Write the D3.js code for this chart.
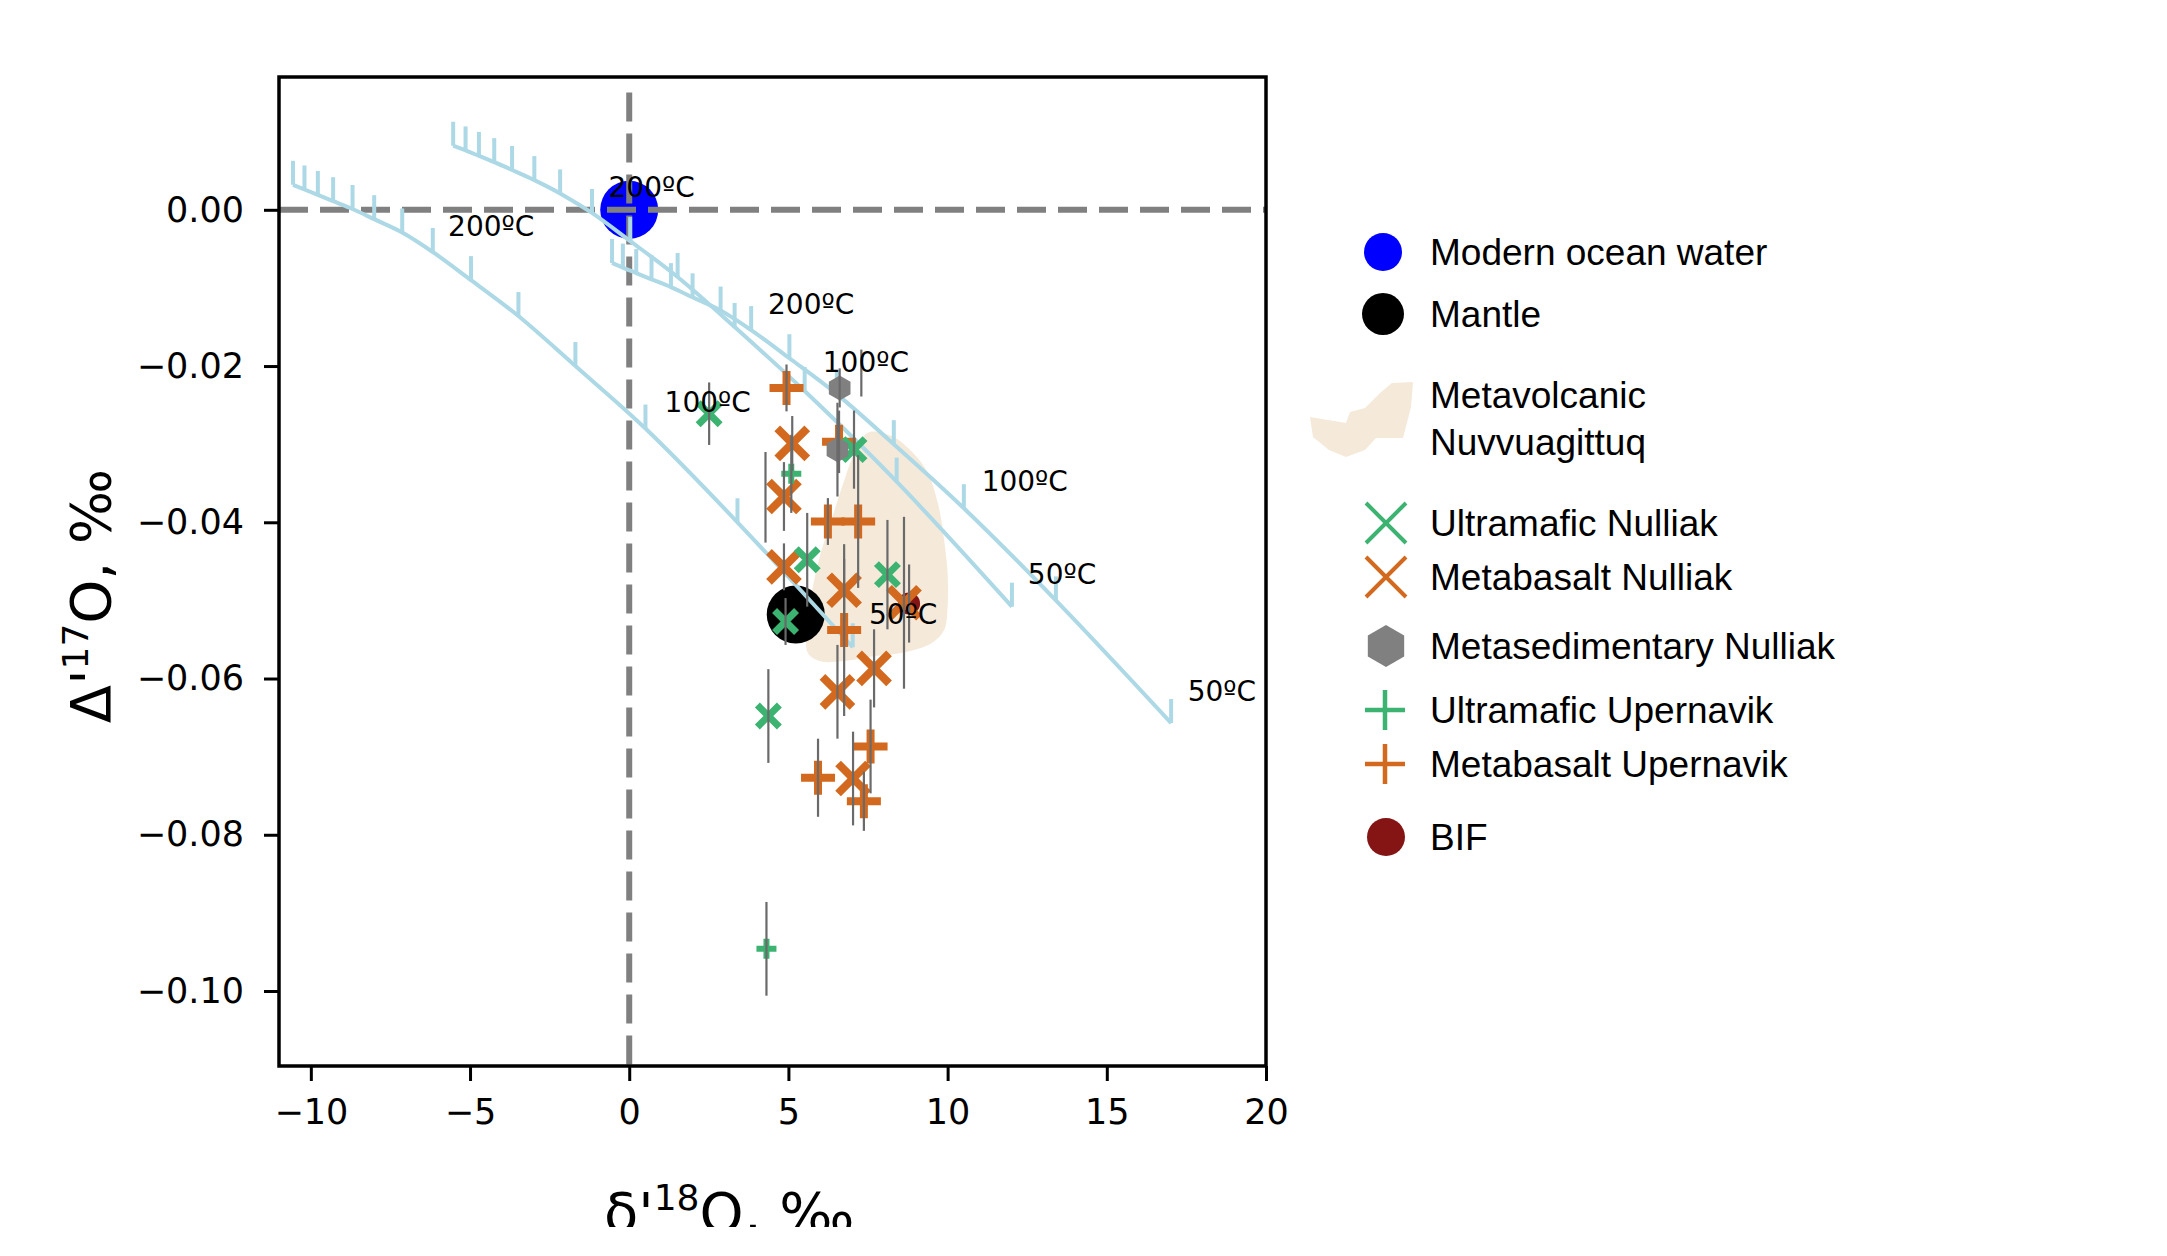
<!DOCTYPE html>
<html>
<head>
<meta charset="utf-8">
<script src="https://cdn.jsdelivr.net/npm/d3@7"></script>
<style>
    body { margin: 0; background: #fff; }
    text { fill: #000; }
</style>
</head>
<body>
<script>
//values: [d'18O, D'17O, error]
var xTicks = [-10, -5, 0, 5, 10, 15, 20];
var yTicks = [0, -0.02, -0.04, -0.06, -0.08, -0.10];

var oceanWater = [[0, 0]];
var mantle = [[5.23, -0.0518]];
var bif = [[8.79, -0.0504, 0.005]];

var ultramaficNulliak = [[2.51, -0.0261, 0.004], [7.06, -0.0307, 0.005], [5.59, -0.0448, 0.006],
    [8.11, -0.0467, 0.007], [4.91, -0.0527, 0.003], [4.37, -0.0648, 0.006]];
var metabasaltNulliak = [[5.12, -0.0299, 0.0035], [4.86, -0.0367, 0.0044], [4.86, -0.0457, 0.003],
    [6.75, -0.0487, 0.004], [8.63, -0.0503, 0.011], [7.69, -0.0587, 0.005], [6.54, -0.0617, 0.006],
    [7.03, -0.0728, 0.006]];
var metasedNulliak = [[6.61, -0.0228, 0.0025], [6.54, -0.0307, 0.006]];
var ultramaficUpernavik = [[5.09, -0.0338, 0.005], [4.31, -0.0946, 0.006]];
var metabasaltUpernavik = [[4.94, -0.0228, 0.003], [6.59, -0.0297, 0.004], [6.24, -0.0399, 0.003],
    [7.19, -0.0399, 0.0085], [6.75, -0.0538, 0.011], [7.58, -0.0687, 0.006], [5.93, -0.0727, 0.005],
    [7.37, -0.0757, 0.0038]];
//error bars with no visible marker: [x, yTop, yBottom]
var looseBars = [[4.28, -0.0310, -0.0426], [7.29, -0.0179, -0.0239]];

//metavolcanic Nuvvuagittuq field outline
var metavolcanic = [[7.58, -0.0284], [8.26, -0.0290], [8.93, -0.0312], [9.38, -0.0337], [9.72, -0.0380],
    [9.89, -0.0423], [10.00, -0.0465], [10.00, -0.0508], [9.89, -0.0538], [9.49, -0.0555], [8.71, -0.0566],
    [7.58, -0.0572], [6.69, -0.0578], [6.01, -0.0578], [5.62, -0.0568], [5.56, -0.0542], [5.62, -0.0516],
    [5.79, -0.0478], [6.01, -0.0440], [6.35, -0.0397], [6.69, -0.0354], [7.02, -0.0316], [7.36, -0.0290]];

//fractionation curves, one point per temperature step (375 -> 50 C)
var curveA = [[-10.56, 0.0032], [-10.20, 0.0026], [-9.78, 0.0019], [-9.30, 0.0011], [-8.69, 0.0001],
    [-8.01, -0.0012], [-7.13, -0.0029], [-6.17, -0.0054], [-4.97, -0.0090], [-3.48, -0.0136],
    [-1.69, -0.0200], [0.51, -0.0280], [3.40, -0.0400], [7.02, -0.0560]];
var curveB = [[-5.53, 0.0082], [-5.14, 0.0076], [-4.72, 0.0069], [-4.24, 0.0061], [-3.68, 0.0051],
    [-2.98, 0.0038], [-2.17, 0.0021], [-1.17, -0.0004], [0.03, -0.0040], [1.52, -0.0086],
    [3.31, -0.0150], [5.51, -0.0232], [8.40, -0.0348], [12.02, -0.0508]];
var curveE = [[-0.54, -0.0068], [-0.20, -0.0074], [0.22, -0.0081], [0.70, -0.0089], [1.31, -0.0099],
    [1.99, -0.0112], [2.87, -0.0129], [3.83, -0.0154], [5.03, -0.0190], [6.52, -0.0236],
    [8.31, -0.0300], [10.51, -0.0382], [13.40, -0.0500], [17.02, -0.0657]];
var curveLabels = [[-5.69, -0.0021, "200ºC"], [1.11, -0.0246, "100ºC"], [7.53, -0.0517, "50ºC"],
    [-0.65, 0.0029, "200ºC"], [6.08, -0.0195, "100ºC"], [12.52, -0.0466, "50ºC"],
    [4.36, -0.0120, "200ºC"], [11.07, -0.0347, "100ºC"], [17.54, -0.0616, "50ºC"]];

var legendLabels = [["Modern ocean water"], ["Mantle"], ["Metavolcanic", "Nuvvuagittuq"],
    ["Ultramafic Nulliak"], ["Metabasalt Nulliak"], ["Metasedimentary Nulliak"],
    ["Ultramafic Upernavik"], ["Metabasalt Upernavik"], ["BIF"]];

var green = "#3cb371", orange = "#d2691e", grey = "#808080", beige = "#f5e9da",
    curveColor = "#add8e6", barColor = "#6a6a6a";

window.onload = drawChart();

function crossPath(s){
    var h = s / 2;
    return "M" + (-h) + "," + (-h) + "L" + h + "," + h + "M" + (-h) + "," + h + "L" + h + "," + (-h);
}
function plusPath(s){
    var h = s / 2;
    return "M" + (-h) + ",0H" + h + "M0," + (-h) + "V" + h;
}
function hexPath(r){
    var pts = d3.range(6).map(function(i){
        var a = Math.PI / 2 + i * Math.PI / 3;
        return [r * Math.cos(a), r * Math.sin(a)];
    });
    return "M" + pts.join("L") + "Z";
}

function drawChart(){
    var width = 2167, height = 1256;

    var svg = d3.select("body").append("svg")
        .attr("width", width)
        .attr("height", height)
        .style("font-family", "'DejaVu Sans', sans-serif");

    var x = d3.scaleLinear().domain([-11, 20]).range([279, 1266]);
    var y = d3.scaleLinear().domain([-0.1096, 0.0170]).range([1066, 77]);

    //clip to the axes box
    svg.append("clipPath").attr("id", "plotClip")
        .append("rect")
        .attr("x", x.range()[0]).attr("y", y.range()[1])
        .attr("width", x.range()[1] - x.range()[0])
        .attr("height", y.range()[0] - y.range()[1]);
    //the figure is cut off at the bottom
    svg.append("clipPath").attr("id", "pageClip")
        .append("rect").attr("x", 0).attr("y", 0).attr("width", width).attr("height", 1227);

    var plot = svg.append("g").attr("clip-path", "url(#plotClip)");

    //metavolcanic field
    plot.append("path")
        .datum(metavolcanic)
        .attr("d", d3.line().x(function(d){ return x(d[0]); }).y(function(d){ return y(d[1]); })
            .curve(d3.curveCatmullRomClosed))
        .attr("fill", beige);

    //reference reservoirs
    plot.selectAll(".ocean").data(oceanWater).enter().append("circle")
        .attr("cx", function(d){ return x(d[0]); })
        .attr("cy", function(d){ return y(d[1]); })
        .attr("r", 29).attr("fill", "#0000ff");
    plot.selectAll(".mantle").data(mantle).enter().append("circle")
        .attr("cx", function(d){ return x(d[0]); })
        .attr("cy", function(d){ return y(d[1]); })
        .attr("r", 29).attr("fill", "#000");
    plot.selectAll(".bif").data(bif).enter().append("circle")
        .attr("cx", function(d){ return x(d[0]); })
        .attr("cy", function(d){ return y(d[1]); })
        .attr("r", 11).attr("fill", "#851414");

    //zero lines
    plot.append("line")
        .attr("x1", x(-11)).attr("x2", x(20)).attr("y1", y(0)).attr("y2", y(0))
        .attr("stroke", grey).attr("stroke-width", 6).attr("stroke-dasharray", "29,12");
    plot.append("line")
        .attr("x1", x(0)).attr("x2", x(0)).attr("y1", y(0.015)).attr("y2", y(-0.1096))
        .attr("stroke", grey).attr("stroke-width", 6).attr("stroke-dasharray", "29,12");

    //fractionation curves with temperature ticks
    var line = d3.line()
        .x(function(d){ return x(d[0]); })
        .y(function(d){ return y(d[1]); })
        .curve(d3.curveCatmullRom);
    [curveA, curveB, curveE].forEach(function(c){
        plot.append("path").datum(c)
            .attr("d", line)
            .attr("fill", "none").attr("stroke", curveColor).attr("stroke-width", 4);
        plot.selectAll(null).data(c).enter().append("line")
            .attr("x1", function(d){ return x(d[0]); })
            .attr("x2", function(d){ return x(d[0]); })
            .attr("y1", function(d){ return y(d[1]); })
            .attr("y2", function(d){ return y(d[1]) - 24; })
            .attr("stroke", curveColor).attr("stroke-width", 4);
    });

    //sample markers
    function addMarkers(data, path, color, sw){
        plot.selectAll(null).data(data).enter().append("path")
            .attr("transform", function(d){ return "translate(" + x(d[0]) + "," + y(d[1]) + ")"; })
            .attr("d", path)
            .attr("fill", "none").attr("stroke", color).attr("stroke-width", sw);
    }
    addMarkers(metabasaltUpernavik, plusPath(34), orange, 8);
    addMarkers(metabasaltNulliak, crossPath(30), orange, 8);
    addMarkers(ultramaficUpernavik, plusPath(20), green, 6);
    addMarkers(ultramaficNulliak, crossPath(22), green, 7);
    plot.selectAll(null).data(metasedNulliak).enter().append("path")
        .attr("transform", function(d){ return "translate(" + x(d[0]) + "," + y(d[1]) + ")"; })
        .attr("d", hexPath(12.5))
        .attr("fill", grey);

    //error bars
    var withErr = [].concat(ultramaficNulliak, metabasaltNulliak, metasedNulliak,
        ultramaficUpernavik, metabasaltUpernavik, bif);
    plot.selectAll(null).data(withErr).enter().append("line")
        .attr("x1", function(d){ return x(d[0]); })
        .attr("x2", function(d){ return x(d[0]); })
        .attr("y1", function(d){ return y(d[1] + d[2]); })
        .attr("y2", function(d){ return y(d[1] - d[2]); })
        .attr("stroke", barColor).attr("stroke-width", 2.2);
    plot.selectAll(null).data(looseBars).enter().append("line")
        .attr("x1", function(d){ return x(d[0]); })
        .attr("x2", function(d){ return x(d[0]); })
        .attr("y1", function(d){ return y(d[1]); })
        .attr("y2", function(d){ return y(d[2]); })
        .attr("stroke", barColor).attr("stroke-width", 2.2);

    //temperature labels
    svg.selectAll(".tlabel").data(curveLabels).enter().append("text")
        .attr("class", "tlabel")
        .attr("x", function(d){ return x(d[0]); })
        .attr("y", function(d){ return y(d[1]) + 10; })
        .attr("font-size", 28)
        .text(function(d){ return d[2]; });

    //axes
    var yAxis = svg.append("g")
        .attr("transform", "translate(" + x.range()[0] + ",0)")
        .call(d3.axisLeft(y).tickValues(yTicks).tickSize(15).tickPadding(20)
            .tickFormat(d3.format(".2f")));
    var xAxis = svg.append("g")
        .attr("transform", "translate(0," + y.range()[0] + ")")
        .call(d3.axisBottom(x).tickValues(xTicks).tickSize(15).tickPadding(18)
            .tickFormat(d3.format("d")));
    [xAxis, yAxis].forEach(function(a){
        a.attr("font-family", null).attr("font-size", null);
        a.select(".domain").remove();
        a.selectAll(".tick line").attr("stroke", "#000").attr("stroke-width", 3);
        a.selectAll(".tick text").attr("font-size", 35).attr("fill", "#000");
    });

    //axes frame
    svg.append("rect")
        .attr("x", x.range()[0]).attr("y", y.range()[1])
        .attr("width", x.range()[1] - x.range()[0])
        .attr("height", y.range()[0] - y.range()[1])
        .attr("fill", "none").attr("stroke", "#000").attr("stroke-width", 3.5);

    //axis titles
    var yTitle = svg.append("text")
        .attr("transform", "translate(110,596) rotate(-90)")
        .attr("text-anchor", "middle")
        .attr("font-size", 56);
    yTitle.append("tspan").text("Δ'");
    yTitle.append("tspan").attr("font-size", 36).attr("dy", -22).text("17");
    yTitle.append("tspan").attr("dy", 22).text("O, ‰");

    var xTitle = svg.append("text")
        .attr("x", 604).attr("y", 1232)
        .attr("font-size", 56)
        .attr("clip-path", "url(#pageClip)");
    xTitle.append("tspan").text("δ'");
    xTitle.append("tspan").attr("font-size", 36).attr("dy", -22).text("18");
    xTitle.append("tspan").attr("dy", 22).text("O, ‰");

    //legend
    var legend = svg.append("g").style("font-family", "'Liberation Sans', Arial, sans-serif");
    var rows = [252, 314, 395, 523, 577, 646, 710, 764, 837];
    var mx = 1385;
    legend.append("circle").attr("cx", mx - 2).attr("cy", rows[0]).attr("r", 19).attr("fill", "#0000ff");
    legend.append("circle").attr("cx", mx - 2).attr("cy", rows[1]).attr("r", 21).attr("fill", "#000");
    legend.append("path")
        .attr("d", "M1413,382L1392,383L1380,393L1365,408L1350,412L1346,423L1310,417L1313,437L1329,450" +
            "L1346,457L1365,450L1376,438L1403,438L1411,407Z")
        .attr("fill", beige);
    legend.append("path").attr("transform", "translate(" + (mx + 1) + "," + rows[3] + ")")
        .attr("d", crossPath(40)).attr("stroke", green).attr("stroke-width", 4);
    legend.append("path").attr("transform", "translate(" + (mx + 1) + "," + rows[4] + ")")
        .attr("d", crossPath(40)).attr("stroke", orange).attr("stroke-width", 4);
    legend.append("path").attr("transform", "translate(" + (mx + 1) + "," + rows[5] + ")")
        .attr("d", hexPath(21)).attr("fill", grey);
    legend.append("path").attr("transform", "translate(" + mx + "," + rows[6] + ")")
        .attr("d", plusPath(40)).attr("stroke", green).attr("stroke-width", 4.5);
    legend.append("path").attr("transform", "translate(" + mx + "," + rows[7] + ")")
        .attr("d", plusPath(40)).attr("stroke", orange).attr("stroke-width", 4.5);
    legend.append("circle").attr("cx", mx + 1).attr("cy", rows[8]).attr("r", 19).attr("fill", "#851414");

    legendLabels.forEach(function(lab, i){
        var t = legend.append("text")
            .attr("x", 1430).attr("y", rows[i] + 13)
            .attr("font-size", 37);
        lab.forEach(function(s, j){
            t.append("tspan").attr("x", 1430).attr("dy", j == 0 ? 0 : 47).text(s);
        });
    });
}
</script>
</body>
</html>
